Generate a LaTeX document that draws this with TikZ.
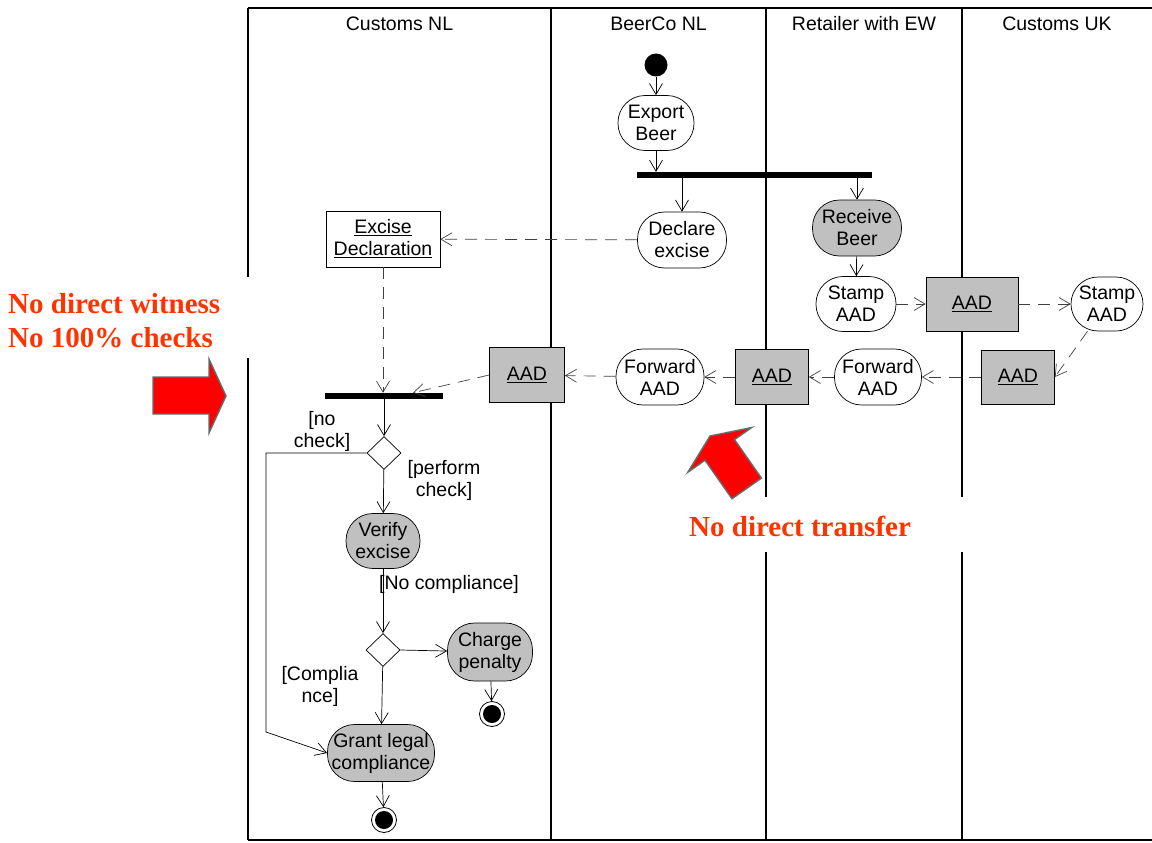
\documentclass[tikz,border=0pt]{standalone}
\usepackage{fontspec}
\setmainfont{Liberation Sans}
\newfontfamily\notefont{Liberation Serif}
\usetikzlibrary{arrows.meta,shapes.geometric,calc}
\definecolor{actgray}{HTML}{C0C0C0}
\definecolor{notered}{HTML}{FF3300}
\definecolor{arrowred}{HTML}{FF0000}
\definecolor{arrowedge}{HTML}{5F6F6F}
\definecolor{msggray}{HTML}{404040}
\newcommand{\lanefont}{\fontsize{19.5}{22}\selectfont}
\newcommand{\notesize}{\fontsize{29}{34}\selectfont\bfseries\notefont}
\begin{document}
\begin{tikzpicture}[x=1pt,y=-1pt,
  lane/.style={line width=1.3pt, draw=black},
  act/.style={draw, line width=0.7pt, rounded corners=27pt, align=center, inner sep=0pt, font=\lanefont},
  actg/.style={act, fill=actgray},
  obj/.style={draw, line width=0.7pt, align=center, inner sep=0pt, font=\lanefont},
  objg/.style={obj, fill=actgray},
  barnode/.style={fill=black, inner sep=0pt},
  decision/.style={diamond, draw, line width=0.7pt, inner sep=0pt, minimum width=34pt, minimum height=33pt},
  initial/.style={circle, fill=black, inner sep=0pt, minimum size=23pt},
  final/.style={circle, draw, line width=0.8pt, fill=white, inner sep=0pt, minimum size=25pt,
    path picture={\fill[black] (path picture bounding box.center) circle (9pt);}},
  flow/.style={-{Straight Barb[length=11pt,width=13pt]}, line width=0.7pt, draw=black},
  msg/.style={-{Straight Barb[length=11pt,width=13pt]}, line width=0.7pt, draw=msggray, dash pattern=on 12pt off 8pt},
  guard/.style={font=\lanefont, align=center, inner sep=0pt},
  bigarrow/.style={fill=arrowred, draw=arrowedge, line width=1.4pt, line join=miter},
  note/.style={font=\notesize, text=notered, inner sep=0pt}]

\useasboundingbox (0,0) rectangle (1152,843);

% swimlane frame
\draw[lane] (248,8) -- (1152,8);
\draw[lane] (248,840) -- (1152,840);
\foreach \lx in {248,551,766,962} \draw[lane] (\lx,8) -- (\lx,840);

% lane titles
\node[guard] (hNL) at (399.5,24) {Customs NL};
\node[guard] (hBeer) at (658.5,24) {BeerCo NL};
\node[guard] (hRet) at (864,24) {Retailer with EW};
\node[guard] (hUK) at (1057,24) {Customs UK};

% BeerCo NL
\node[initial] (start) at (656,65) {};
\node[act, minimum width=76pt, minimum height=55pt] (export) at (656,123) {Export\\Beer};
\node[barnode, minimum width=235pt, minimum height=6pt] (fork) at (754.5,175) {};
\node[act, minimum width=89pt, minimum height=56pt] (declare) at (682,240) {Declare\\excise};
\node[act, minimum width=88pt, minimum height=56pt] (fwdB) at (660,377) {Forward\\AAD};

% Retailer with EW
\node[actg, minimum width=89pt, minimum height=56pt] (receive) at (857,228) {Receive\\Beer};
\node[act, minimum width=80pt, minimum height=55pt] (stampR) at (856,304) {Stamp\\AAD};
\node[act, minimum width=87pt, minimum height=56pt] (fwdR) at (878,377) {Forward\\AAD};

% AAD documents
\node[objg, minimum width=92pt, minimum height=54pt] (aad1) at (972,304) {\underline{AAD}};
\node[objg, minimum width=73pt, minimum height=54pt] (aad2) at (1018,377) {\underline{AAD}};
\node[objg, minimum width=73pt, minimum height=55pt] (aad3) at (772,377) {\underline{AAD}};
\node[objg, minimum width=75pt, minimum height=55pt] (aad4) at (527,375) {\underline{AAD}};

% Customs UK
\node[act, minimum width=72pt, minimum height=54pt] (stampUK) at (1107,304) {Stamp\\AAD};

% Customs NL
\node[obj, fill=white, minimum width=114pt, minimum height=56pt] (excdecl) at (383,239) {\underline{Excise}\\\underline{Declaration}};
\node[barnode, minimum width=118pt, minimum height=6pt] (join) at (384,396) {};
\node[decision] (dec1) at (384,453) {};
\node[actg, minimum width=74pt, minimum height=55pt] (verify) at (383,541) {Verify\\excise};
\node[decision] (dec2) at (383,650) {};
\node[actg, minimum width=85pt, minimum height=58pt] (charge) at (490,652) {Charge\\penalty};
\node[final] (end1) at (492,714) {};
\node[actg, minimum width=107pt, minimum height=57pt] (grant) at (381,753) {Grant legal\\compliance};
\node[final] (end2) at (384,820) {};
\coordinate (nocheckTop) at (266,453);
\coordinate (nocheckBot) at (266,732);

% control flow
\draw[flow] (start) -- (export);
\draw[flow] (export) -- (export |- fork.north);
\draw[flow] (fork.south -| declare) -- (declare);
\draw[flow] (fork.south -| receive) -- (receive);
\draw[flow] (receive) -- (stampR);
\draw[flow] (join) -- (dec1);
\draw[flow] (dec1) -- (verify);
\draw[flow] (dec1.west) -- (nocheckTop) -- (nocheckBot) -- (grant.west);
\draw[flow] (verify) -- (dec2);
\draw[flow] (dec2.east) -- (charge);
\draw[flow] (dec2) -- (grant);
\draw[flow] (charge) -- (end1);
\draw[flow] (grant) -- (end2);

% object flow
\draw[msg] (declare) -- (excdecl);
\draw[msg] (excdecl) -- (excdecl |- join.north);
\draw[msg] (aad4.west) -- ([xshift=29pt]join.north);
\draw[msg] (stampR) -- (aad1);
\draw[msg] (aad1) -- (stampUK);
\draw[msg] (stampUK) -- (aad2.east);
\draw[msg] (aad2) -- (fwdR);
\draw[msg] (fwdR) -- (aad3);
\draw[msg] (aad3) -- (fwdB);
\draw[msg] (fwdB) -- (aad4);

% guards
\node[guard] (gNo) at (322,431) {[no\\check]};
\node[guard] (gPerf) at (444,480) {[perform\\check]};
\node[guard] (gNoComp) at (449,584) {[No compliance]};
\node[guard] (gComp) at (320,686) {[Complia\\nce]};

% annotations
\fill[white] (0,277) rectangle (256,358);
\node[note, anchor=west, align=left] (witness) at (8,321) {No direct witness\\No 100\% checks};
\draw[bigarrow] (153,377) -- (209,377) -- (209,359) -- (226,396) -- (209,433) -- (209,414) -- (153,414) -- cycle;

\fill[white] (680,497) rectangle (972,552);
\node[note, anchor=west] (transfer) at (689,526) {No direct transfer};
\begin{scope}[shift={(710,436)}, rotate=125]
  \draw[bigarrow] (0,0) -- (-17,39) -- (-17,18) -- (-64,18) -- (-64,-18) -- (-17,-18) -- (-17,-39) -- cycle;
\end{scope}
\end{tikzpicture}
\end{document}
